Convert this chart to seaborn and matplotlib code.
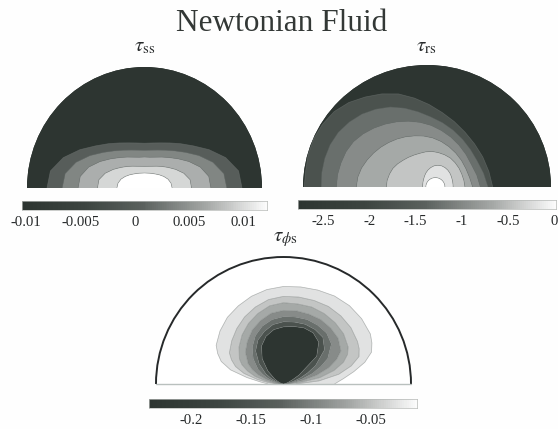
import numpy as np
import matplotlib
matplotlib.use("Agg")
import matplotlib.pyplot as plt
from matplotlib.patches import Wedge, Arc
import seaborn as sns

# ---------- data ----------
ANGLES_HALF = [0, 10, 20, 30, 40, 50, 60, 70, 80, 90]
ANGLES_FULL = [0, 10, 20, 30, 40, 50, 60, 70, 80, 90, 100, 110, 120, 130, 140, 150, 160, 170, 180]

# tau_ss: radius of each contour along each ray, outermost first
SS_RANGE = (-0.0104, 0.01215)
SS_TICKS = [-0.01, -0.005, 0, 0.005, 0.01]
SS_LABELS = ["-0.01", "-0.005", "0", "0.005", "0.01"]
SS_CENTERS = [0, 0, 0, 0, 0]
SS_RADII = [
    [.83, .813, .735, .634, .542, .478, .43, .397, .378, .37],
    [.70, .685, .62, .535, .457, .40, .36, .333, .317, .311],
    [.565, .555, .505, .437, .375, .328, .295, .271, .258, .256],
    [.40, .394, .356, .307, .264, .232, .208, .191, .182, .179],
    [.235, .229, .213, .19, .168, .15, .138, .13, .125, .124],
]

# tau_rs
RS_RANGE = (-2.77, 0.015)
RS_TICKS = [-2.5, -2, -1.5, -1, -0.5, 0]
RS_LABELS = ["-2.5", "-2", "-1.5", "-1", "-0.5", "0"]
RS_CENTERS = [-.23, -.18, -.15, -.10, -.011, .0875, .0675]
RS_RADII = [
    [.76, .74, .723, .708, .70, .70, .705, .72, .74, .763, .775, .785, .80, .807, .80, .79, .775, .76, .76],
    [.671, .645, .622, .612, .608, .607, .608, .611, .625, .645, .665, .678, .689, .694, .697, .693, .685, .678, .672],
    [.58, .56, .54, .535, .533, .533, .534, .537, .538, .539, .542, .548, .557, .568, .578, .58, .578, .58, .58],
    [.468, .45, .44, .436, .433, .431, .43, .428, .424, .419, .418, .418, .42, .425, .432, .442, .455, .465, .47],
    [.317, .313, .31, .31, .31, .31, .305, .30, .296, .288, .28, .278, .28, .285, .295, .305, .31, .315, .317],
    [.123, .124, .127, .132, .14, .15, .16, .169, .176, .178, .176, .169, .16, .15, .14, .132, .127, .124, .123],
    [.077, .077, .077, .077, .077, .077, .077, .077, .077, .077, .077, .077, .077, .077, .077, .077, .077, .077, .077],
]

# tau_phis: contours all pinch into the middle of the base
PS_RANGE = (-0.2355, -0.011)
PS_TICKS = [-0.2, -0.15, -0.1, -0.05]
PS_LABELS = ["-0.2", "-0.15", "-0.1", "-0.05"]
PS_ANGLES = [0, 5, 10, 15, 20, 25, 30, 40, 50, 60, 70, 80, 90, 100, 110, 120,
             130, 140, 150, 155, 160, 165, 170, 175, 180]
PS_RADII = [
    [.40, .47, .56, .66, .735, .765, .787, .80, .805, .80, .787, .776, .768, .755, .735, .71, .685, .65, .61, .57, .52, .43, .29, .18, .12],
    [.10, .28, .44, .55, .63, .655, .67, .69, .70, .705, .70, .695, .69, .675, .645, .61, .57, .53, .49, .45, .40, .32, .21, .12, .05],
    [.03, .13, .29, .41, .50, .555, .585, .615, .63, .64, .645, .64, .64, .625, .59, .55, .505, .455, .40, .36, .30, .23, .14, .07, .02],
    [.01, .05, .15, .27, .38, .46, .52, .56, .575, .585, .585, .585, .58, .565, .53, .49, .44, .39, .32, .27, .21, .14, .08, .03, .01],
    [.005, .02, .07, .15, .24, .32, .40, .49, .525, .535, .54, .535, .53, .515, .485, .44, .38, .31, .23, .18, .13, .08, .04, .015, .005],
    [.003, .01, .03, .08, .14, .21, .29, .42, .48, .495, .50, .495, .49, .475, .44, .40, .34, .25, .16, .11, .07, .04, .02, .008, .003],
    [.001, .004, .01, .02, .04, .075, .14, .34, .43, .465, .47, .46, .45, .435, .40, .345, .26, .16, .08, .05, .03, .015, .008, .003, .001],
]

TITLE = "Newtonian Fluid"

# ---------- style ----------
W, H = 558, 429
sns.set_theme(style="white", font="Liberation Serif")
plt.rcParams["mathtext.fontset"] = "stix"
DARK = "#2d3531"
INK = "#26292a"
fig = plt.figure(figsize=(W / 100, H / 100), dpi=100, facecolor="#fefefe")


def px_axes(x0, x1, ytop, ybot):
    return fig.add_axes([x0 / W, 1 - ybot / H, (x1 - x0) / W, (ybot - ytop) / H])


def mirror(angles, radii):
    th = list(angles) + [180 - a for a in angles[-2::-1]]
    full = [list(r) + list(r[-2::-1]) for r in radii]
    return np.array(th, float), np.array(full, float)


def field(ax, theta, radii, centers, vrange, inner_high):
    """Contour levels sit on the rows of a (ray, contour) mesh."""
    n = len(radii)
    levels = np.linspace(vrange[0], vrange[1], n + 2)
    t = np.deg2rad(theta)
    rows_r = np.vstack([np.full(len(t), 1.03), radii, np.zeros(len(t))])
    cs = np.array([0] + list(centers) + [centers[-1]], float)[:, None]
    X = cs + rows_r * np.cos(t)
    Y = rows_r * np.sin(t)
    ranks = np.arange(n + 2) if inner_high else np.arange(n + 1, -1, -1)
    Z = np.tile(levels[ranks][:, None], (1, len(t)))
    palette = sns.blend_palette([DARK, "#ffffff"], n_colors=n + 1)
    ax.set_xlim(-1, 1)
    ax.set_ylim(0, 1)
    ax.axis("off")
    disc = Wedge((0, 0), 1, 0, 180, facecolor=palette[0] if inner_high else "white",
                 edgecolor="none", transform=ax.transData)
    ax.add_patch(disc)
    filled = ax.contourf(X, Y, Z, levels=levels, colors=palette, antialiased=True)
    filled.set_clip_path(disc)
    lines = ax.contour(X, Y, Z, levels=levels[1:-1], colors="#6f7573",
                       linewidths=0.5, linestyles="solid", alpha=0.55)
    lines.set_clip_path(disc)


BAR_CMAP = sns.blend_palette([DARK, "#3c4440", "#5c625f", "#a3a6a4", "#fbfbfb"], as_cmap=True)


def bar(x0, x1, ytop, ybot, vrange, ticks, labels):
    ax = px_axes(x0, x1, ytop, ybot)
    n = 128
    vals = np.linspace(vrange[0], vrange[1], n)[None, :]
    sns.heatmap(vals, ax=ax, cmap=BAR_CMAP, cbar=False, xticklabels=False, yticklabels=False)
    ax.set_xticks((np.array(ticks) - vrange[0]) / (vrange[1] - vrange[0]) * n)
    ax.set_xticklabels(labels, fontsize=10.6, color=INK)
    ax.tick_params(axis="x", length=0, pad=4.5)
    for s in ax.spines.values():
        s.set_visible(True)
        s.set_color("#b5b8b6")
        s.set_linewidth(0.5)


# tau_ss
ax1 = px_axes(27, 262, 67, 188)
th, rad = mirror(ANGLES_HALF, SS_RADII)
field(ax1, th, rad, SS_CENTERS, SS_RANGE, True)
bar(22, 267, 201, 210, SS_RANGE, SS_TICKS, SS_LABELS)

# tau_rs
ax2 = px_axes(303, 551, 65, 187)
field(ax2, np.array(ANGLES_FULL, float), np.array(RS_RADII, float), RS_CENTERS, RS_RANGE, True)
bar(298, 556, 200, 209, RS_RANGE, RS_TICKS, RS_LABELS)

# tau_phis
ax3 = px_axes(156, 411, 257, 384)
field(ax3, np.array(PS_ANGLES, float), np.array(PS_RADII, float), [0] * len(PS_RADII), PS_RANGE, False)
ax3.add_patch(Arc((0, 0), 2, 2, theta1=0, theta2=180, color="#26292a", lw=1.4, clip_on=False))
sns.lineplot(x=[-1, 1], y=[0, 0], ax=ax3, color="#b9c0be", lw=1.0, clip_on=False)
ax3.set_xlim(-1, 1)
ax3.set_ylim(0, 1)
bar(149, 417, 399, 408, PS_RANGE, PS_TICKS, PS_LABELS)

# texts
fig.text(282 / W, 1 - 31 / H, TITLE, fontsize=22.5, color="#333836", ha="center", va="baseline")
fig.text(145 / W, 1 - 51 / H, r"$\tau_{\mathrm{ss}}$", fontsize=15, color=INK, ha="center", va="baseline")
fig.text(426 / W, 1 - 51 / H, r"$\tau_{\mathrm{rs}}$", fontsize=15, color=INK, ha="center", va="baseline")
fig.text(285 / W, 1 - 241 / H, r"$\tau_{\phi\mathrm{s}}$", fontsize=15, color=INK, ha="center", va="baseline")

fig.savefig("out.png", dpi=100, facecolor=fig.get_facecolor())
